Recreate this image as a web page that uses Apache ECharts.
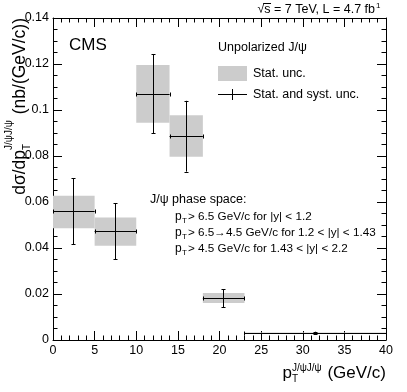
<!DOCTYPE html>
<html>
<head>
<meta charset="utf-8">
<script src="https://cdn.jsdelivr.net/npm/echarts@6/dist/echarts.min.js"></script>
<style>
  html, body { margin: 0; padding: 0; background: #fff; }
  #chart { width: 407px; height: 392px; }
</style>
</head>
<body>
<div id="chart"></div>
<script>
// pT bins (GeV/c) and measured cross sections (nb/(GeV/c))
const binLow = [0, 5, 10, 14, 18, 23]
const binHigh = [5, 10, 14, 18, 23, 40]
const ptMean = [2.44, 7.5, 12.0, 16.0, 20.45, 31.5]
const xsec = [0.0561, 0.0474, 0.1071, 0.0887, 0.0183, 0.0030]
const statLow = [0.0486, 0.0410, 0.0945, 0.0797, 0.0161, 0.0027]
const statHigh = [0.0627, 0.0533, 0.1196, 0.0977, 0.0204, 0.0033]
const totLow = [0.0417, 0.0352, 0.0900, 0.0732, 0.0143, 0.0024]
const totHigh = [0.0703, 0.0594, 0.1243, 0.1040, 0.0220, 0.0036]

const xTicks = { min: 0, max: 40, step: 5 }
const yTicks = { min: 0, max: 0.14, step: 0.02 }

const FONT = '"Liberation Sans", Arial, Helvetica, sans-serif'

const ctx = document.createElement('canvas').getContext('2d')
function textWidth(s, size) {
  ctx.font = size + 'px ' + FONT
  return ctx.measureText(s).width
}

function txt(x, y, s, size, align) {
  return {
    type: 'text', x: x, y: y, silent: true,
    style: {
      text: s, fill: '#000', fontSize: size, fontFamily: FONT,
      align: align || 'left', verticalAlign: 'middle',
      textAlign: align || 'left', textVerticalAlign: 'middle'
    }
  }
}

const points = xsec.map((v, i) => [ptMean[i], v, binLow[i], binHigh[i], statLow[i], statHigh[i], totLow[i], totHigh[i]])

function px(v) { return Math.round(v) + 0.5 }

function line(x1, y1, x2, y2) {
  return { type: 'line', shape: { x1: x1, y1: y1, x2: x2, y2: y2 }, style: { stroke: '#000', lineWidth: 1 } }
}

function renderBox(params, api) {
  const a = api.coord([api.value(2), api.value(5)])
  const b = api.coord([api.value(3), api.value(4)])
  return {
    type: 'rect',
    shape: { x: a[0], y: a[1], width: b[0] - a[0], height: b[1] - a[1] },
    style: { fill: '#cccccc' }
  }
}

function renderErr(params, api) {
  const y = api.value(1)
  const l = api.coord([api.value(2), y])
  const r = api.coord([api.value(3), y])
  const t = api.coord([api.value(0), api.value(7)])
  const b = api.coord([api.value(0), api.value(6)])
  const yy = px(l[1]), xx = px(t[0])
  const c = 2
  return {
    type: 'group',
    children: [
      line(l[0], yy, r[0], yy),
      line(px(l[0]), yy - c, px(l[0]), yy + c),
      line(px(r[0]), yy - c, px(r[0]), yy + c),
      line(xx, t[1], xx, b[1]),
      line(xx - c, px(t[1]), xx + c, px(t[1])),
      line(xx - c, px(b[1]), xx + c, px(b[1]))
    ]
  }
}

function axisCommon(show, minorSplit) {
  return {
    axisLine: { show: true, onZero: false, lineStyle: { color: '#000', width: 1 } },
    axisTick: { show: true, inside: true, length: 9, lineStyle: { color: '#000' } },
    minorTick: { show: true, splitNumber: minorSplit, length: 4.5, lineStyle: { color: '#000' } },
    splitLine: { show: false },
    minorSplitLine: { show: false },
    axisLabel: { show: show, color: '#000', fontSize: 12.5, fontFamily: FONT, margin: 4 }
  }
}

// axis titles and annotations
const graphics = []

// y title, rotated, right-aligned at the top of the frame
;(function () {
  const end = 18
  const w2 = textWidth(' (nb/(GeV/c))', 17.5)
  const wb = Math.max(textWidth('J/ψJ/ψ', 10), textWidth('T', 10)) + 1
  const w1 = textWidth('dσ/dp', 17.5)
  const s2 = end + w2, sb = s2 + wb, s1 = sb + w1
  graphics.push({
    type: 'group', x: 0, y: 0, rotation: Math.PI / 2,
    children: [
      txt(-s1, 20, 'dσ/dp', 17.5),
      txt(-sb, 27, 'T', 10),
      txt(-sb, 9, 'J/ψJ/ψ', 10),
      txt(-s2, 20, ' (nb/(GeV/c))', 17.5)
    ]
  })
})()

// x title, right-aligned at the end of the axis
;(function () {
  const end = 386
  const w2 = textWidth(' (GeV/c)', 17)
  const wb = Math.max(textWidth('J/ψJ/ψ', 10), textWidth('T', 10)) + 1
  const w1 = textWidth('p', 17)
  const s2 = end - w2, sb = s2 - wb, s1 = sb - w1
  graphics.push(txt(s1, 373, 'p', 17))
  graphics.push(txt(sb, 379, 'T', 10))
  graphics.push(txt(sb, 368, 'J/ψJ/ψ', 10))
  graphics.push(txt(s2, 373, ' (GeV/c)', 17))
})()

// energy / lumi label
;(function () {
  const main = '√s = 7 TeV, L = 4.7 fb'
  const w = textWidth(main, 12.5)
  const x0 = 375 - w
  const wr = textWidth('√', 12.5), wsq = textWidth('√s', 12.5)
  graphics.push(txt(x0, 10, main, 12.5))
  graphics.push(txt(376, 6, '1', 8))
  graphics.push({ type: 'line', silent: true, shape: { x1: x0 + wr - 1, y1: 3.5, x2: x0 + wsq + 0.5, y2: 3.5 }, style: { stroke: '#000', lineWidth: 1 } })
})()

graphics.push(txt(69, 45, 'CMS', 17))

// legend
graphics.push(txt(218, 48, 'Unpolarized J/ψ', 12.5))
graphics.push({ type: 'rect', silent: true, shape: { x: 218, y: 66, width: 29, height: 15 }, style: { fill: '#cccccc' } })
graphics.push(txt(253, 74, 'Stat. unc.', 12.5))
graphics.push({ type: 'line', silent: true, shape: { x1: 218, y1: 94.5, x2: 247, y2: 94.5 }, style: { stroke: '#000', lineWidth: 1 } })
graphics.push({ type: 'line', silent: true, shape: { x1: 232.5, y1: 89, x2: 232.5, y2: 100 }, style: { stroke: '#000', lineWidth: 1 } })
graphics.push(txt(253, 95, 'Stat. and syst. unc.', 12.5))

// phase space
const phaseLines = ['> 6.5 GeV/c for |y| < 1.2', '> 6.5→4.5 GeV/c for 1.2 < |y| < 1.43', '> 4.5 GeV/c for 1.43 < |y| < 2.2']
graphics.push(txt(150, 200, 'J/ψ phase space:', 12.5))
phaseLines.forEach((s, i) => {
  const y = 217 + i * 16
  graphics.push(txt(175, y, 'p', 12))
  graphics.push(txt(182, y + 4, 'T', 8))
  graphics.push(txt(188, y, s, 11.7))
})

const chart = echarts.init(document.getElementById('chart'), null, { renderer: 'canvas' })
chart.setOption({
  animation: false,
  backgroundColor: '#fff',
  grid: { left: 53, right: 21, top: 18, bottom: 52, containLabel: false },
  xAxis: [
    Object.assign({ type: 'value', position: 'bottom', min: xTicks.min, max: xTicks.max, interval: xTicks.step }, axisCommon(true, 5)),
    Object.assign({ type: 'value', position: 'top', min: xTicks.min, max: xTicks.max, interval: xTicks.step }, axisCommon(false, 5))
  ],
  yAxis: [
    Object.assign({ type: 'value', position: 'left', min: yTicks.min, max: yTicks.max, interval: yTicks.step }, axisCommon(true, 4)),
    Object.assign({ type: 'value', position: 'right', min: yTicks.min, max: yTicks.max, interval: yTicks.step }, axisCommon(false, 4))
  ],
  series: [
    { type: 'custom', name: 'Stat. unc.', xAxisIndex: 0, yAxisIndex: 0, clip: true, renderItem: renderBox, data: points, z: 1 },
    { type: 'custom', name: 'Stat. and syst. unc.', xAxisIndex: 0, yAxisIndex: 0, clip: true, renderItem: renderErr, data: points, z: 2 }
  ],
  graphic: graphics
})
</script>
</body>
</html>
